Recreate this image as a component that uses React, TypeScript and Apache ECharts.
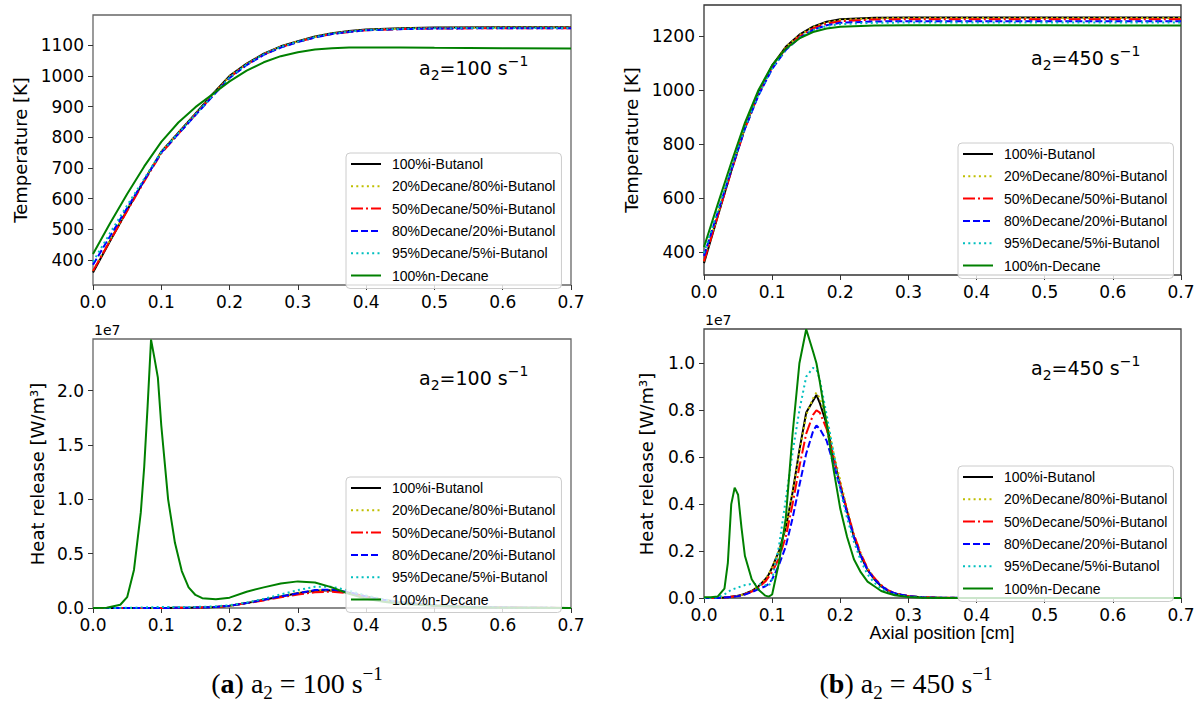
import React, { useEffect, useRef } from "react";
import * as echarts from "echarts";

// ---------- legend / styles ----------
const NAMES = [
  "100%i-Butanol",
  "20%Decane/80%i-Butanol",
  "50%Decane/50%i-Butanol",
  "80%Decane/20%i-Butanol",
  "95%Decane/5%i-Butanol",
  "100%n-Decane",
];
const COLORS = ["#000000", "#bfbf00", "#ff0000", "#0000ff", "#00bfbf", "#008000"];
const DASHES: any[] = ["solid", [2, 3.3], [12, 3, 2, 3], [7, 3], [2, 3.3], "solid"];

const X_TICKS = [0, 0.1, 0.2, 0.3, 0.4, 0.5, 0.6, 0.7];
const T100_TICKS = [400, 500, 600, 700, 800, 900, 1000, 1100];
const Q100_TICKS = [0, 0.5, 1.0, 1.5, 2.0];
const T450_TICKS = [400, 600, 800, 1000, 1200];
const Q450_TICKS = [0, 0.2, 0.4, 0.6, 0.8, 1.0];

// ---------- (a) temperature, a2 = 100 ----------
const xT100 = [0, 0.025, 0.05, 0.075, 0.1, 0.125, 0.15, 0.175, 0.2, 0.225, 0.25, 0.275, 0.3, 0.325, 0.35, 0.375, 0.4, 0.45, 0.5, 0.6, 0.7];
const T100_but = [360, 462, 562, 660, 753, 815, 877, 940, 1000, 1040, 1072, 1096, 1113, 1128, 1139, 1146, 1151, 1155, 1157, 1158, 1158];
const T100_d20 = [365, 466, 565, 661, 753, 815, 876, 938, 998, 1039, 1071, 1095, 1112, 1127, 1138, 1145, 1150, 1154, 1156, 1157, 1157];
const T100_d50 = [365, 463, 560, 656, 748, 811, 873, 935, 995, 1036, 1069, 1093, 1110, 1125, 1136, 1143, 1148, 1152, 1154, 1155, 1155];
const T100_d80 = [385, 478, 570, 660, 750, 811, 872, 933, 993, 1035, 1068, 1092, 1110, 1125, 1136, 1143, 1148, 1152, 1154, 1155, 1155];
const T100_d95 = [395, 488, 578, 665, 752, 813, 874, 935, 995, 1037, 1070, 1094, 1111, 1126, 1137, 1144, 1149, 1153, 1155, 1156, 1156];
const T100_dec = [420, 520, 615, 705, 785, 848, 898, 940, 982, 1017, 1044, 1064, 1077, 1086, 1090, 1092, 1092, 1092, 1091, 1090, 1089];

// ---------- (a) heat release, a2 = 100 (units 1e7 W/m3) ----------
const xQ100 = [0, 0.02, 0.04, 0.05, 0.06, 0.07, 0.075, 0.08, 0.085, 0.09, 0.095, 0.1, 0.11, 0.12, 0.13, 0.14, 0.15, 0.16, 0.18, 0.2, 0.225, 0.25, 0.275, 0.3, 0.325, 0.35, 0.375, 0.4, 0.425, 0.45, 0.5, 0.55, 0.6, 0.7];
const Q100_but = [0, 0, 0, 0, 0, 0, 0, 0, 0, 0, 0, 0.001, 0.001, 0.002, 0.002, 0.003, 0.004, 0.005, 0.01, 0.02, 0.045, 0.075, 0.105, 0.135, 0.158, 0.163, 0.14, 0.105, 0.075, 0.052, 0.024, 0.01, 0.004, 0];
const Q100_d20 = [0, 0, 0, 0, 0, 0, 0, 0, 0, 0, 0, 0.001, 0.001, 0.002, 0.002, 0.003, 0.004, 0.005, 0.01, 0.021, 0.047, 0.078, 0.108, 0.14, 0.163, 0.168, 0.145, 0.108, 0.077, 0.053, 0.025, 0.01, 0.004, 0];
const Q100_d50 = [0, 0, 0, 0, 0, 0, 0, 0, 0, 0, 0, 0.001, 0.001, 0.002, 0.002, 0.003, 0.004, 0.005, 0.01, 0.02, 0.043, 0.07, 0.098, 0.125, 0.145, 0.15, 0.135, 0.1, 0.072, 0.05, 0.023, 0.01, 0.004, 0];
const Q100_d80 = [0, 0, 0, 0, 0, 0, 0, 0, 0, 0, 0, 0.001, 0.001, 0.002, 0.002, 0.003, 0.004, 0.005, 0.01, 0.02, 0.045, 0.076, 0.106, 0.135, 0.165, 0.17, 0.145, 0.105, 0.075, 0.052, 0.024, 0.01, 0.004, 0];
const Q100_d95 = [0, 0, 0.001, 0.002, 0.003, 0.004, 0.005, 0.006, 0.007, 0.008, 0.009, 0.01, 0.01, 0.01, 0.01, 0.01, 0.01, 0.011, 0.016, 0.025, 0.05, 0.085, 0.125, 0.165, 0.195, 0.195, 0.16, 0.115, 0.08, 0.055, 0.026, 0.011, 0.004, 0];
const Q100_dec = [0, 0.002, 0.03, 0.1, 0.35, 0.88, 1.3, 1.86, 2.47, 2.3, 2.12, 1.68, 1.0, 0.6, 0.34, 0.19, 0.12, 0.09, 0.08, 0.095, 0.15, 0.19, 0.225, 0.245, 0.235, 0.19, 0.13, 0.085, 0.058, 0.04, 0.02, 0.008, 0.003, 0];

// ---------- (b) temperature, a2 = 450 ----------
const xT450 = [0, 0.02, 0.04, 0.06, 0.08, 0.1, 0.12, 0.14, 0.16, 0.18, 0.2, 0.25, 0.3, 0.4, 0.5, 0.6, 0.7];
const T450_but = [358, 530, 700, 860, 990, 1090, 1160, 1205, 1235, 1253, 1262, 1268, 1269, 1269, 1269, 1269, 1269];
const T450_d20 = [365, 535, 704, 863, 991, 1090, 1159, 1203, 1233, 1251, 1260, 1266, 1267, 1267, 1267, 1267, 1267];
const T450_d50 = [365, 532, 698, 856, 984, 1084, 1154, 1198, 1228, 1246, 1255, 1261, 1262, 1262, 1262, 1262, 1262];
const T450_d80 = [385, 545, 703, 856, 980, 1078, 1148, 1193, 1223, 1240, 1249, 1254, 1255, 1255, 1255, 1255, 1255];
const T450_d95 = [395, 552, 708, 860, 983, 1080, 1150, 1194, 1222, 1237, 1244, 1249, 1250, 1250, 1250, 1250, 1250];
const T450_dec = [418, 575, 730, 878, 1000, 1092, 1153, 1191, 1215, 1228, 1234, 1239, 1240, 1240, 1240, 1239, 1239];

// ---------- (b) heat release, a2 = 450 (units 1e7 W/m3) ----------
const xQ450 = [0, 0.01, 0.02, 0.03, 0.035, 0.04, 0.045, 0.05, 0.055, 0.06, 0.07, 0.08, 0.09, 0.095, 0.1, 0.11, 0.12, 0.13, 0.14, 0.15, 0.16, 0.165, 0.17, 0.18, 0.19, 0.2, 0.21, 0.22, 0.23, 0.24, 0.25, 0.26, 0.27, 0.28, 0.3, 0.32, 0.35, 0.4, 0.5, 0.7];
const Q450_but = [0, 0, 0, 0.002, 0.003, 0.005, 0.007, 0.01, 0.013, 0.018, 0.03, 0.05, 0.08, 0.1, 0.13, 0.2, 0.3, 0.45, 0.63, 0.79, 0.84, 0.865, 0.83, 0.74, 0.6, 0.48, 0.37, 0.26, 0.18, 0.12, 0.08, 0.05, 0.03, 0.018, 0.007, 0.003, 0.001, 0, 0, 0];
const Q450_d20 = [0, 0, 0, 0.002, 0.003, 0.005, 0.007, 0.01, 0.013, 0.018, 0.03, 0.05, 0.08, 0.1, 0.13, 0.2, 0.3, 0.45, 0.62, 0.78, 0.85, 0.875, 0.85, 0.76, 0.62, 0.5, 0.38, 0.27, 0.19, 0.125, 0.085, 0.055, 0.033, 0.02, 0.008, 0.003, 0.001, 0, 0, 0];
const Q450_d50 = [0, 0, 0, 0.002, 0.003, 0.005, 0.007, 0.009, 0.012, 0.016, 0.027, 0.045, 0.07, 0.09, 0.11, 0.17, 0.26, 0.4, 0.56, 0.7, 0.78, 0.8, 0.79, 0.72, 0.6, 0.48, 0.37, 0.27, 0.19, 0.125, 0.085, 0.055, 0.033, 0.02, 0.008, 0.003, 0.001, 0, 0, 0];
const Q450_d80 = [0, 0, 0, 0.002, 0.003, 0.004, 0.006, 0.008, 0.011, 0.015, 0.025, 0.038, 0.05, 0.06, 0.08, 0.14, 0.22, 0.34, 0.48, 0.615, 0.71, 0.735, 0.72, 0.67, 0.57, 0.47, 0.36, 0.26, 0.18, 0.12, 0.08, 0.052, 0.032, 0.02, 0.008, 0.003, 0.001, 0, 0, 0];
const Q450_d95 = [0, 0, 0.003, 0.015, 0.025, 0.035, 0.04, 0.045, 0.05, 0.055, 0.06, 0.06, 0.055, 0.05, 0.08, 0.22, 0.42, 0.62, 0.8, 0.943, 0.98, 0.975, 0.93, 0.78, 0.62, 0.46, 0.34, 0.24, 0.16, 0.1, 0.065, 0.04, 0.025, 0.015, 0.005, 0.002, 0.001, 0, 0, 0];
const Q450_dec = [0.003, 0.003, 0.006, 0.04, 0.15, 0.4, 0.47, 0.44, 0.3, 0.18, 0.08, 0.035, 0.01, 0.006, 0.015, 0.15, 0.34, 0.7, 1.0, 1.145, 1.05, 1.0, 0.92, 0.74, 0.55, 0.38, 0.26, 0.165, 0.11, 0.07, 0.05, 0.03, 0.02, 0.012, 0.004, 0.001, 0, 0, 0, 0];

// ---------- layout ----------
const GRIDS = [
  { left: 93, top: 15, width: 478, height: 270 },
  { left: 93, top: 339, width: 478, height: 269 },
  { left: 704, top: 5, width: 477, height: 270 },
  { left: 704, top: 329, width: 477, height: 269 },
];
const Y_RANGES = [
  [319, 1198],
  [0, 2.476],
  [314, 1315],
  [0, 1.146],
];
const LEGEND_POS = [
  { left: 346, top: 153 },
  { left: 346, top: 477 },
  { left: 958, top: 143 },
  { left: 958, top: 466 },
];

function makeSeries(x: number[], ys: number[][], gi: number) {
  return ys.map((y, i) => ({
    type: "line",
    name: NAMES[i],
    xAxisIndex: gi,
    yAxisIndex: gi,
    data: x.map((xv, k) => [xv, y[k]]),
    symbol: "none",
    showSymbol: false,
    lineStyle: { color: COLORS[i], width: 2, type: DASHES[i], cap: "butt" },
    itemStyle: { color: COLORS[i] },
    emphasis: { disabled: true },
  }));
}

function annotation(x: number, y: number, val: string) {
  return {
    type: "text",
    x,
    y,
    z: 10,
    style: {
      text: `{n|a}{s|2}{n|=${val} s}{p|−1}`,
      align: "left",
      verticalAlign: "middle",
      rich: {
        n: { fontSize: 19, fontFamily: "DejaVu Sans", lineHeight: 28, verticalAlign: "middle", fill: "#000" },
        s: { fontSize: 14, fontFamily: "DejaVu Sans", verticalAlign: "bottom", fill: "#000" },
        p: { fontSize: 14, fontFamily: "DejaVu Sans", verticalAlign: "top", fill: "#000" },
      },
    },
  };
}

function caption(x: number, y: number, letter: string, val: string) {
  return {
    type: "text",
    x,
    y,
    style: {
      text: `{n|(}{b|${letter}}{n|) a}{s|2}{n| = ${val} s}{p|−1}`,
      align: "center",
      verticalAlign: "middle",
      rich: {
        n: { fontSize: 28, fontFamily: "Liberation Serif", lineHeight: 38, verticalAlign: "middle", fill: "#000" },
        b: { fontSize: 28, fontFamily: "Liberation Serif", fontWeight: "bold", lineHeight: 38, verticalAlign: "middle", fill: "#000" },
        s: { fontSize: 19, fontFamily: "Liberation Serif", verticalAlign: "bottom", fill: "#000" },
        p: { fontSize: 19, fontFamily: "Liberation Serif", verticalAlign: "top", fill: "#000" },
      },
    },
  };
}

function yTitle(x: number, y: number, text: string) {
  return {
    type: "text",
    x,
    y,
    rotation: Math.PI / 2,
    style: {
      text,
      align: "center",
      verticalAlign: "middle",
      fontSize: 18,
      fontFamily: "DejaVu Sans",
      fill: "#000",
    },
  };
}

function plainText(x: number, y: number, text: string, size: number, family: string, align = "left") {
  return {
    type: "text",
    x,
    y,
    style: { text, align, verticalAlign: "middle", fontSize: size, fontFamily: family, fill: "#000" },
  };
}

export default function App() {
  const ref = useRef<HTMLDivElement>(null);

  useEffect(() => {
    if (!ref.current) return;
    const chart = echarts.init(ref.current, undefined, { renderer: "svg" });

    const yTicks = [T100_TICKS, Q100_TICKS, T450_TICKS, Q450_TICKS];
    const yFmt = [
      (v: number) => String(Math.round(v)),
      (v: number) => v.toFixed(1),
      (v: number) => String(Math.round(v)),
      (v: number) => v.toFixed(1),
    ];
    const spine = ["#666", "#666", "#333", "#444"];

    const option: any = {
      animation: false,
      backgroundColor: "#fff",
      grid: GRIDS.map((g, i) => ({
        ...g,
        show: true,
        borderColor: spine[i],
        borderWidth: 1.3,
        backgroundColor: "transparent",
        containLabel: false,
      })),
      xAxis: GRIDS.map((_, i) => ({
        type: "value",
        gridIndex: i,
        min: 0,
        max: 0.7,
        interval: 0.1,
        axisLine: { show: false },
        axisTick: { show: true, length: 5, inside: false, customValues: X_TICKS, lineStyle: { color: "#333", width: 1 } },
        axisLabel: {
          customValues: X_TICKS,
          margin: 8,
          fontSize: 17,
          fontFamily: "DejaVu Sans",
          color: "#000",
          formatter: (v: number) => v.toFixed(1),
        },
        splitLine: { show: false },
      })),
      yAxis: GRIDS.map((_, i) => ({
        type: "value",
        gridIndex: i,
        min: Y_RANGES[i][0],
        max: Y_RANGES[i][1],
        axisLine: { show: false },
        axisTick: { show: true, length: 5, inside: false, customValues: yTicks[i], lineStyle: { color: "#333", width: 1 } },
        axisLabel: {
          customValues: yTicks[i],
          margin: 9,
          fontSize: 17,
          fontFamily: "DejaVu Sans",
          color: "#000",
          formatter: yFmt[i],
        },
        splitLine: { show: false },
      })),
      legend: LEGEND_POS.map((p) => ({
        ...p,
        orient: "vertical",
        data: NAMES,
        itemWidth: 30,
        itemHeight: 12,
        itemGap: 8.3,
        padding: [4, 6, 6, 4],
        backgroundColor: "rgba(255,255,255,0.8)",
        borderColor: "#cccccc",
        borderWidth: 1,
        borderRadius: 4,
        selectedMode: false,
        itemStyle: { opacity: 0 },
        textStyle: { fontSize: 14, fontFamily: "Liberation Sans", color: "#000", padding: [0, 0, 0, 6] },
      })),
      graphic: [
        annotation(419, 68, "100"),
        annotation(419, 378, "100"),
        annotation(1031, 58, "450"),
        annotation(1031, 368, "450"),
        yTitle(20, 150, "Temperature [K]"),
        yTitle(37, 474, "Heat release [W/m³]"),
        yTitle(631, 140, "Temperature [K]"),
        yTitle(646, 464, "Heat release [W/m³]"),
        plainText(94, 330, "1e7", 14, "DejaVu Sans"),
        plainText(705, 320, "1e7", 14, "DejaVu Sans"),
        plainText(942, 633, "Axial position [cm]", 18, "Liberation Sans", "center"),
        caption(297, 683, "a", "100"),
        caption(906, 683, "b", "450"),
      ],
      series: [
        ...makeSeries(xT100, [T100_but, T100_d20, T100_d50, T100_d80, T100_d95, T100_dec], 0),
        ...makeSeries(xQ100, [Q100_but, Q100_d20, Q100_d50, Q100_d80, Q100_d95, Q100_dec], 1),
        ...makeSeries(xT450, [T450_but, T450_d20, T450_d50, T450_d80, T450_d95, T450_dec], 2),
        ...makeSeries(xQ450, [Q450_but, Q450_d20, Q450_d50, Q450_d80, Q450_d95, Q450_dec], 3),
      ],
    };

    chart.setOption(option);
    return () => chart.dispose();
  }, []);

  return (
    <div
      ref={ref}
      style={{ position: "absolute", left: 0, top: 0, width: 1203, height: 704, background: "#fff" }}
    />
  );
}
